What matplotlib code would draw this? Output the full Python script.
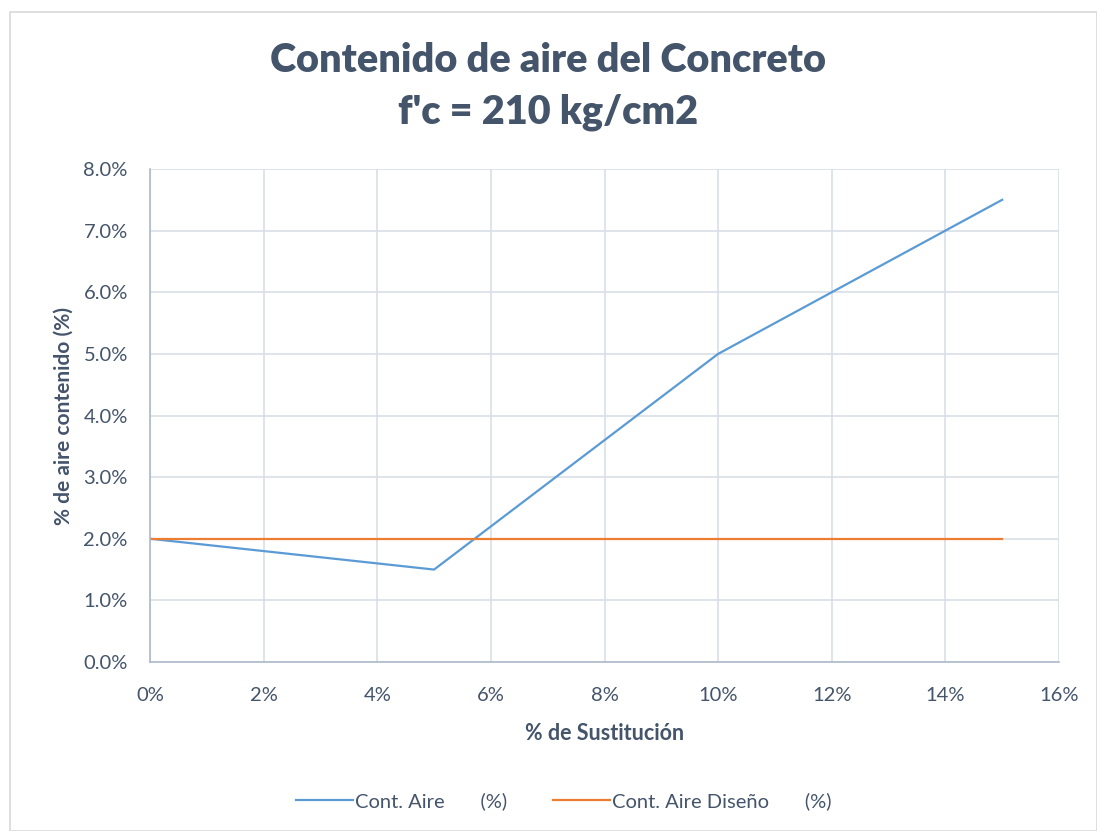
import matplotlib.pyplot as plt
from matplotlib.ticker import FuncFormatter
from matplotlib.patches import Rectangle

# Datos
sustitucion = [0, 5, 10, 15]
cont_aire = [2.0, 1.5, 5.0, 7.5]
cont_aire_diseno = [2.0, 2.0, 2.0, 2.0]

color_texto = '#44546A'
plt.rcParams['font.family'] = ['Lato', 'DejaVu Sans']

fig = plt.figure(figsize=(10.97, 8.31), dpi=100)
fig.patches.append(Rectangle((10 / 1097, 0), 1 - 10 / 1097, 1 - 12 / 831, transform=fig.transFigure,
                             fill=False, edgecolor='#D9D9D9', linewidth=1.2))

ax = fig.add_axes([150 / 1097, 1 - 662 / 831, 909 / 1097, 493 / 831])

ax.plot(sustitucion, cont_aire, color='#5B9BD5', linewidth=1.6, label='Cont. Aire       (%)')
ax.plot(sustitucion, cont_aire_diseno, color='#ED7D31', linewidth=1.6, label='Cont. Aire Diseño       (%)')

ax.set_xlim(0, 16)
ax.set_ylim(0, 8)
ax.set_xticks(range(0, 17, 2))
ax.set_yticks(range(0, 9))
ax.xaxis.set_major_formatter(FuncFormatter(lambda v, p: f'{v:.0f}%'))
ax.yaxis.set_major_formatter(FuncFormatter(lambda v, p: f'{v:.1f}%'))
ax.tick_params(length=0, labelsize=14.5, colors=color_texto)
ax.tick_params(axis='x', pad=18)
ax.tick_params(axis='y', pad=16)
ax.grid(True, color='#D9DEE6', linewidth=1.2)
ax.set_axisbelow(True)

for lado in ['top', 'right']:
    ax.spines[lado].set_visible(False)
for lado in ['left', 'bottom']:
    ax.spines[lado].set_color('#ADB9CA')
    ax.spines[lado].set_linewidth(1.2)

ax.set_xlabel('% de Sustitución', fontsize=15.5, fontweight='bold', color=color_texto, labelpad=14)
ax.set_ylabel('% de aire contenido (%)', fontsize=15, fontweight='bold', color=color_texto, labelpad=7)

fig.text(0.5, 1 - 60 / 831, 'Contenido de aire del Concreto', ha='center', va='center',
         fontsize=28.5, fontweight='heavy', color=color_texto)
fig.text(0.5, 1 - 112 / 831, "f'c = 210 kg/cm2", ha='center', va='center',
         fontsize=28.5, fontweight='heavy', color=color_texto)

fig.legend(loc='center', bbox_to_anchor=(0.514, 1 - 801 / 831), ncol=2, frameon=False,
           fontsize=14.5, labelcolor=color_texto, handlelength=2.8, handletextpad=0.1, columnspacing=2.3)

fig.savefig('out.png', dpi=100)
